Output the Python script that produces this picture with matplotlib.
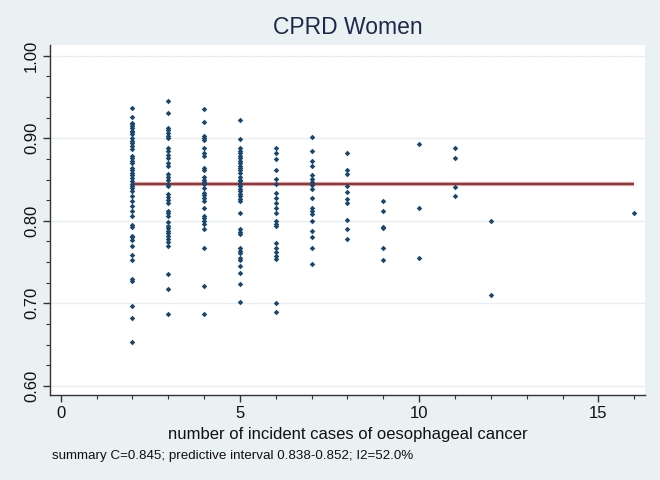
import matplotlib
matplotlib.use("Agg")
import matplotlib.pyplot as plt
from matplotlib.ticker import MultipleLocator

plt.rcParams['font.family'] = ['Liberation Sans', 'DejaVu Sans']

title = "CPRD Women"
xlabel = "number of incident cases of oesophageal cancer"
note = "summary C=0.845; predictive interval 0.838-0.852; I2=52.0%"
summary_c = 0.845

cases_2 = [0.937, 0.926, 0.919, 0.917, 0.915, 0.913, 0.909, 0.907, 0.905, 0.900, 0.897, 0.894,
           0.891, 0.887, 0.879, 0.876, 0.873, 0.870, 0.864, 0.861, 0.858, 0.855, 0.852, 0.848,
           0.845, 0.842, 0.840, 0.836, 0.830, 0.824, 0.818, 0.812, 0.806, 0.795, 0.792, 0.782,
           0.780, 0.777, 0.770, 0.759, 0.752, 0.729, 0.727, 0.697, 0.682, 0.653]
cases_3 = [0.945, 0.931, 0.913, 0.910, 0.906, 0.903, 0.900, 0.888, 0.884, 0.880, 0.876, 0.870,
           0.866, 0.857, 0.853, 0.849, 0.845, 0.842, 0.833, 0.829, 0.825, 0.822, 0.812, 0.809,
           0.806, 0.798, 0.794, 0.791, 0.788, 0.785, 0.782, 0.778, 0.774, 0.770, 0.736, 0.718, 0.687]
cases_4 = [0.935, 0.920, 0.903, 0.900, 0.898, 0.888, 0.882, 0.879, 0.864, 0.861, 0.853, 0.850,
           0.847, 0.845, 0.840, 0.834, 0.831, 0.828, 0.824, 0.816, 0.806, 0.804, 0.800, 0.796,
           0.790, 0.767, 0.721, 0.687]
cases_5 = [0.922, 0.899, 0.888, 0.885, 0.882, 0.879, 0.876, 0.873, 0.870, 0.867, 0.864, 0.861,
           0.858, 0.853, 0.850, 0.848, 0.845, 0.842, 0.839, 0.836, 0.833, 0.830, 0.827, 0.824,
           0.810, 0.790, 0.787, 0.784, 0.767, 0.764, 0.761, 0.755, 0.752, 0.745, 0.737, 0.724, 0.702]
cases_6 = [0.888, 0.882, 0.875, 0.861, 0.851, 0.845, 0.834, 0.828, 0.822, 0.816, 0.810, 0.800,
           0.796, 0.794, 0.773, 0.767, 0.762, 0.757, 0.754, 0.700, 0.690]
cases_7 = [0.901, 0.885, 0.873, 0.867, 0.855, 0.851, 0.847, 0.843, 0.839, 0.828, 0.816, 0.812,
           0.808, 0.800, 0.788, 0.781, 0.767, 0.748]
cases_8 = [0.882, 0.861, 0.857, 0.842, 0.835, 0.827, 0.821, 0.801, 0.790, 0.778]
cases_9 = [0.824, 0.812, 0.793, 0.791, 0.767, 0.752]
cases_10 = [0.893, 0.815, 0.755]
cases_11 = [0.888, 0.876, 0.841, 0.830]
cases_12 = [0.800, 0.710]
cases_16 = [0.810]

groups = {2: cases_2, 3: cases_3, 4: cases_4, 5: cases_5, 6: cases_6, 7: cases_7,
          8: cases_8, 9: cases_9, 10: cases_10, 11: cases_11, 12: cases_12, 16: cases_16}

xticks = [0, 5, 10, 15]
yticks = [0.60, 0.70, 0.80, 0.90, 1.00]
ytick_labels = ["0.60", "0.70", "0.80", "0.90", "1.00"]

bg = '#e9f1f3'
navy = '#1a476f'

fig = plt.figure(figsize=(6.6, 4.8), dpi=100, facecolor=bg)
ax = fig.add_axes([50/660, 1-395/480, 595/660, 350/480])
ax.set_facecolor('white')

xs, ys = [], []
for k, vals in groups.items():
    xs.extend([k]*len(vals))
    ys.extend(vals)
ax.scatter(xs, ys, s=8, color=navy, marker='D', linewidths=0, zorder=3)

xmin, xmax = min(groups), max(groups)
ax.plot([xmin, xmax], [summary_c, summary_c], color='#d9a3a6', lw=3.0, zorder=2,
        solid_capstyle='butt')
ax.plot([xmin, xmax], [summary_c, summary_c], color='#90353b', lw=1.4, zorder=2,
        solid_capstyle='butt')

ax.set_xlim(-0.3, 16.3)
ax.set_ylim(0.589, 1.013)
ax.set_xticks(xticks)
ax.xaxis.set_minor_locator(MultipleLocator(1))
ax.set_yticks(yticks)
ax.set_yticklabels(ytick_labels, rotation=90, va='center')
ax.yaxis.set_minor_locator(MultipleLocator(0.025))
ax.grid(axis='y', which='major', color='#e6eef0', lw=1.0, zorder=0)
ax.set_axisbelow(True)

for s in ['top', 'right']:
    ax.spines[s].set_visible(False)
for s in ['left', 'bottom']:
    ax.spines[s].set_color('#333333')
    ax.spines[s].set_linewidth(1.0)

ax.tick_params(axis='both', which='major', length=5, width=1, color='#333333',
               labelsize=12, labelcolor='#111111', pad=3)
ax.tick_params(axis='both', which='minor', length=3, width=0.8, color='#333333')

ax.set_xlabel(xlabel, fontsize=12, color='#111111', labelpad=4)
fig.text(0.5 * (50 + 645) / 660, 1 - 28/480, title, ha='center', va='center',
         fontsize=16.5, color='#1e2a4a')
fig.text(52/660, 1 - 456/480, note, ha='left', va='center', fontsize=9.6,
         color='#111111')

fig.savefig('out.png', dpi=100, facecolor=bg)
